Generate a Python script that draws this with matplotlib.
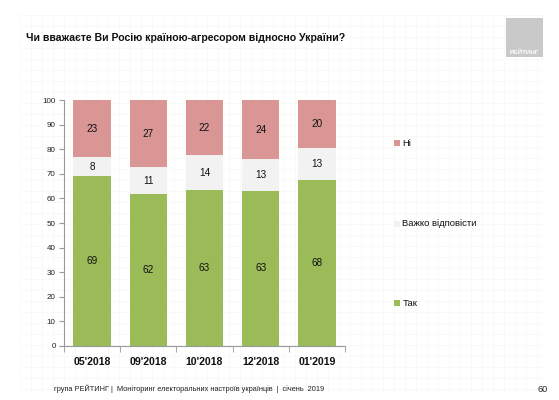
import matplotlib
matplotlib.use("Agg")
import matplotlib.pyplot as plt
from matplotlib.patches import Rectangle
from matplotlib import font_manager
import numpy as np

plt.rcParams['font.family'] = ['Liberation Sans', 'DejaVu Sans']

names = {f.name for f in font_manager.fontManager.ttflist}
narrow = ['Liberation Sans Narrow', 'Liberation Sans', 'DejaVu Sans'] if 'Liberation Sans Narrow' in names else ['Liberation Sans', 'DejaVu Sans']

categories = ["05'2018", "09'2018", "10'2018", "12'2018", "01'2019"]
tak = [69.2, 61.7, 63.3, 63.0, 67.6]
vazhko = [7.6, 11.0, 14.4, 13.1, 12.9]
ni = [23.2, 27.3, 22.3, 23.9, 19.6]
tak_labels = [69, 62, 63, 63, 68]
vazhko_labels = [8, 11, 14, 13, 13]
ni_labels = [23, 27, 22, 24, 20]
series_names = ["Ні", "Важко відповісти", "Так"]

c_tak = '#9BBB59'
c_vaz = '#F2F2F2'
c_ni = '#D99694'

W, H = 559, 400
fig = plt.figure(figsize=(W/100, H/100), dpi=100)
fig.patch.set_facecolor('white')

# faint background grid
bg = fig.add_axes([0, 0, 1, 1], zorder=-10)
bg.set_xlim(0, W); bg.set_ylim(H, 0); bg.axis('off')
for gx in np.arange(20, 546, 11):
    bg.plot([gx, gx], [15, 393], color='#f7f7f7', lw=0.5, zorder=0)
for gy in np.arange(15, 394, 11):
    bg.plot([20, 545], [gy, gy], color='#f7f7f7', lw=0.5, zorder=0)

def fx(px): return px / W
def fy(py): return 1 - py / H

ax = fig.add_axes([fx(64), fy(345.7), (345 - 64) / W, (345.7 - 100.3) / H])
ax.patch.set_alpha(0)
x = np.arange(len(categories))
bw = 0.665
ax.bar(x, tak, bw, color=c_tak, zorder=2)
ax.bar(x, vazhko, bw, bottom=tak, color=c_vaz, zorder=2)
bottom3 = np.array(tak) + np.array(vazhko)
ax.bar(x, ni, bw, bottom=bottom3, color=c_ni, zorder=2)

lab_fs = 7.2
for i in range(len(categories)):
    ax.text(x[i], tak[i] / 2, str(tak_labels[i]), ha='center', va='center', fontsize=lab_fs, color='#111111')
    ax.text(x[i], tak[i] + vazhko[i] / 2, str(vazhko_labels[i]), ha='center', va='center', fontsize=lab_fs, color='#111111')
    ax.text(x[i], bottom3[i] + ni[i] / 2, str(ni_labels[i]), ha='center', va='center', fontsize=lab_fs, color='#111111')

ax.set_xlim(-0.5, len(categories) - 0.5)
ax.set_ylim(0, 100)
ax.set_yticks(np.arange(0, 101, 10))
ax.tick_params(axis='y', labelsize=5.8, length=3.5, color='#999999', labelcolor='#222222', pad=2.5)
ax.set_xticks(x)
ax.set_xticklabels(categories, fontsize=7.6, fontweight='bold', color='#111111')
ax.set_xticks(np.arange(-0.5, len(categories)), minor=True)
ax.tick_params(axis='x', which='major', length=0, pad=8)
ax.tick_params(axis='x', which='minor', length=4, color='#999999')
for s in ['top', 'right']:
    ax.spines[s].set_visible(False)
for s in ['left', 'bottom']:
    ax.spines[s].set_color('#999999')
    ax.spines[s].set_linewidth(0.8)

# title
fig.text(fx(26), fy(38), "Чи вважаєте Ви Росію країною-агресором відносно України?",
         fontsize=7.6, fontweight='bold', ha='left', va='center', color='#111111')

# logo
bg.add_patch(Rectangle((506, 18), 37, 39, facecolor='#C9C9C9', edgecolor='none', zorder=5))
bg.text(524.5, 52, "РЕЙТИНГ", fontsize=4.6, fontweight='bold', color='white', ha='center', va='center', zorder=6)

# legend
leg = [(series_names[0], c_ni, 143), (series_names[1], c_vaz, 224), (series_names[2], c_tak, 303)]
for name, col, py in leg:
    bg.add_patch(Rectangle((394, py - 2.8), 5.5, 5.5, facecolor=col, edgecolor='none', zorder=5))
    bg.text(402.5, py, name, fontsize=6.8, ha='left', va='center', color='#111111', zorder=6)

# footer
bg.text(54, 389, "група РЕЙТИНГ |  Моніторинг електоральних настроїв українців  |  січень  2019",
        fontsize=5.8 if narrow[0] == 'Liberation Sans Narrow' else 5.3, family=narrow,
        ha='left', va='center', color='#222222', zorder=6)
bg.text(537, 389, "60", fontsize=6.5, ha='left', va='center', color='#222222', zorder=6)

fig.savefig('out.png', dpi=100, facecolor='white')
